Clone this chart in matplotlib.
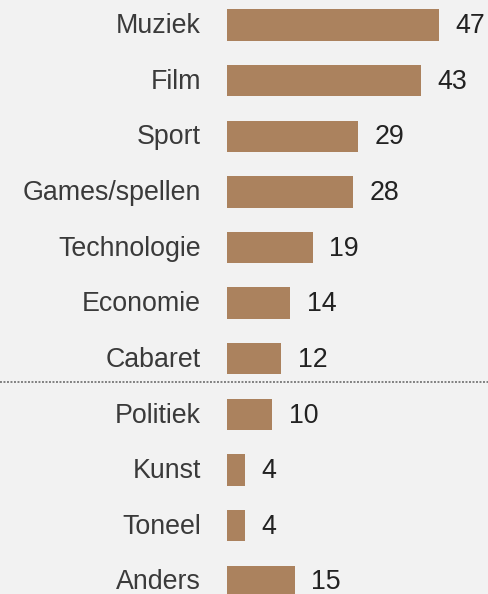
import matplotlib
matplotlib.use("Agg")
import matplotlib.pyplot as plt

categories = ["Muziek", "Film", "Sport", "Games/spellen", "Technologie", "Economie",
              "Cabaret", "Politiek", "Kunst", "Toneel", "Anders"]
values = [47, 43, 29, 28, 19, 14, 12, 10, 4, 4, 15]

W, H, DPI = 488, 594, 100
bg = "#F2F2F2"
bar_color = "#AB825E"

plt.rcParams["font.family"] = ["Liberation Sans", "DejaVu Sans"]

fig = plt.figure(figsize=(W / DPI, H / DPI), dpi=DPI, facecolor=bg)
ax = fig.add_axes([0, 0, 1, 1])
ax.set_facecolor(bg)

px_per_unit = 4.51
x0_px = 227
row_px = 55.63
top_px = 25

ax.set_xlim(-x0_px / px_per_unit, (W - x0_px) / px_per_unit)
ax.set_ylim((H - top_px) / row_px, -top_px / row_px)

ys = list(range(len(categories)))
ax.barh(ys, values, height=0.563, color=bar_color, edgecolor="none")

lab_x = (201 - x0_px) / px_per_unit
gap = 16.5 / px_per_unit
for y, c, v in zip(ys, categories, values):
    ax.text(lab_x, y + 0.02, c, ha="right", va="center", fontsize=19.3, color="#3A3A3A")
    ax.text(v + gap, y + 0.02, str(v), ha="left", va="center", fontsize=19.3, color="#222222")

ax.axhline((382 - top_px) / row_px, color="#808080", linewidth=1.4,
           linestyle=(0, (1, 0.8)))

ax.axis("off")
fig.savefig("out.png", dpi=DPI, facecolor=bg)
